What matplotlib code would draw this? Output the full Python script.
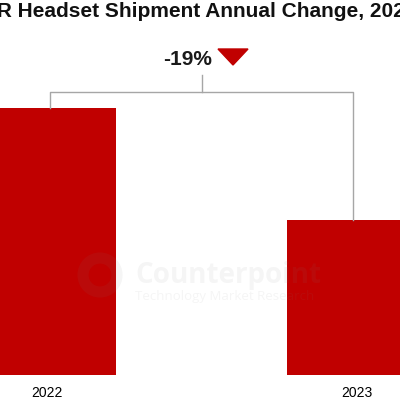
import matplotlib
matplotlib.use('Agg')
import matplotlib.pyplot as plt
from matplotlib.patches import Polygon, Circle

# VR headset shipments, indexed to 2022 = 100
years = ['2022', '2023']
shipments = [100, 81]
change_label = '-19%'

bar_color = '#C00000'
line_color = '#A6A6A6'

plt.rcParams['font.family'] = ['Liberation Sans', 'DejaVu Sans']

fig = plt.figure(figsize=(4, 4), dpi=100)
ax = fig.add_axes([0, 0.0625, 1, 0.9375])

pos = list(range(len(years)))
ax.bar(pos, shipments, width=0.448, color=bar_color, zorder=2)

ax.set_xlim(-0.15, 1.14)
ax.set_ylim(54.7, 118.3)
ax.set_xticks(pos)
ax.set_xticklabels(years, fontsize=10)
ax.tick_params(axis='x', length=0, pad=8)
ax.set_yticks([])
for s in ax.spines.values():
    s.set_visible(False)

# bracket connecting the two bars
top = max(shipments) + 2.7
x0, x1 = pos[0] + 0.01, pos[1] - 0.01
ax.plot([x0, x0, x1, x1], [shipments[0], top, top, shipments[1]],
        color=line_color, lw=1, zorder=3)
mid = (pos[0] + pos[1]) / 2
ax.plot([mid, mid], [top, top + 2.9], color=line_color, lw=1, zorder=3)

# change label and down arrow
fig.text(212 / 400, 1 - 65 / 400, change_label, ha='right', va='baseline',
         fontsize=15, fontweight='bold', color='#1a1a1a')
tri = Polygon([[218 / 400, 1 - 49 / 400], [248 / 400, 1 - 49 / 400], [233 / 400, 1 - 65 / 400]],
              closed=True, transform=fig.transFigure, color=bar_color)
fig.patches.append(tri)

fig.text(0.5, 1 - 17 / 400, 'VR Headset Shipment Annual Change, 2023', ha='center',
         va='baseline', fontsize=15, fontweight='bold', color='#111111')

# watermark
wm = dict(transform=fig.transFigure, color='#808080', alpha=0.08, zorder=5)
fig.text(135 / 400, 1 - 283 / 400, 'Counterpoint', ha='left', va='baseline',
         fontsize=20, fontweight='bold', family='Open Sans', **wm)
fig.text(135 / 400, 1 - 300 / 400, 'Technology Market Research', ha='left', va='baseline',
         fontsize=9.5, family='Open Sans', **wm)
ring = Circle((100 / 400, 1 - 275 / 400), 17 / 400, fill=False, lw=8, **wm)
fig.patches.append(ring)

fig.savefig('out.png', dpi=100)
